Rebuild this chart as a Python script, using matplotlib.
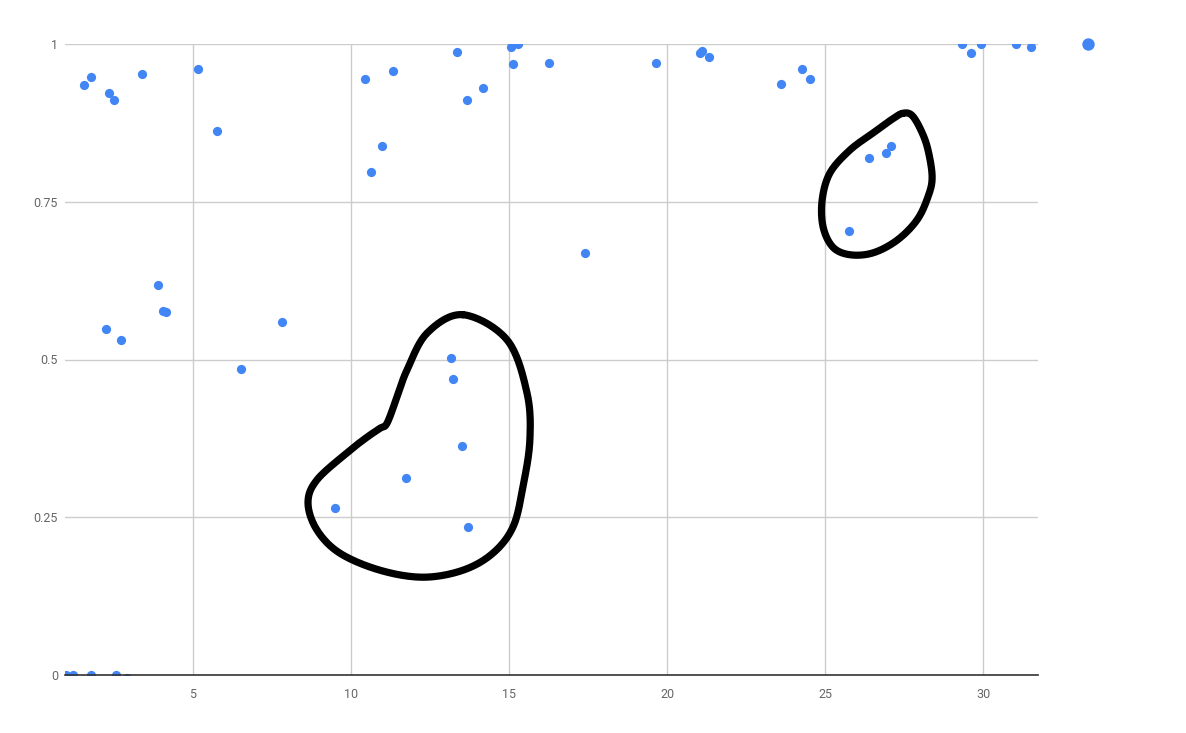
import numpy as np
import matplotlib
matplotlib.use("Agg")
import matplotlib.pyplot as plt

plt.rcParams['font.family'] = ['Roboto', 'DejaVu Sans']

# data points
x_vals = [1.55, 1.77, 2.34, 2.50, 3.39, 5.16, 5.76, 3.89, 4.05, 4.15, 2.25, 2.72,
          6.52, 7.82, 9.49, 10.44, 11.33, 10.98, 10.63, 13.35, 13.67, 14.18,
          15.06, 15.28, 15.13, 16.27, 17.41, 19.65, 21.04, 21.11, 21.33, 23.61,
          24.27, 24.53, 26.39, 26.93, 27.09, 25.76, 13.16, 13.23, 13.51, 11.74,
          13.70, 29.34, 29.62, 29.94, 31.04, 31.52,
          0.98, 1.20, 1.77, 2.56, 2.91]
y_vals = [0.935, 0.948, 0.922, 0.911, 0.952, 0.960, 0.862, 0.618, 0.577, 0.575,
          0.548, 0.531, 0.485, 0.559, 0.265, 0.945, 0.957, 0.838, 0.797, 0.987,
          0.911, 0.930, 0.995, 1.0, 0.968, 0.970, 0.669, 0.970, 0.986, 0.989,
          0.979, 0.937, 0.960, 0.945, 0.819, 0.827, 0.838, 0.704, 0.502, 0.469,
          0.363, 0.312, 0.235, 1.0, 0.986, 1.0, 1.0, 0.995,
          0.0, 0.0, 0.0, 0.0, -0.004]

# highlighted point outside the view window
big_x = [33.32]
big_y = [1.0]

x_ticks = [5, 10, 15, 20, 25, 30]
y_ticks = [0, 0.25, 0.5, 0.75, 1]
y_tick_labels = ["0", "0.25", "0.5", "0.75", "1"]

# hand-drawn loops (data coords)
loop1_x = [13.54, 14.94, 15.57, 15.66, 15.44, 15.13, 14.49, 13.54, 12.28, 10.92,
           9.65, 8.92, 8.64, 8.92, 9.87, 10.51, 10.92, 11.14, 11.46, 11.77, 12.41]
loop1_y = [0.571, 0.531, 0.447, 0.372, 0.298, 0.235, 0.193, 0.166, 0.155, 0.166,
           0.193, 0.230, 0.273, 0.309, 0.352, 0.377, 0.391, 0.399, 0.441, 0.483, 0.542]
loop2_x = [27.45, 27.75, 28.05, 28.26, 28.39, 28.26, 27.91, 27.28, 26.52, 25.79, 25.25,
           24.94, 24.91, 25.16, 25.79, 26.52, 27.10]
loop2_y = [0.890, 0.887, 0.862, 0.832, 0.789, 0.758, 0.721, 0.689, 0.669, 0.666, 0.678,
           0.710, 0.753, 0.796, 0.832, 0.859, 0.880]


def catmull_closed(xs, ys, n=20):
    P = np.column_stack([xs, ys])
    m = len(P)
    out = []
    t = np.linspace(0, 1, n, endpoint=False)[:, None]
    for i in range(m):
        p0, p1, p2, p3 = P[(i - 1) % m], P[i], P[(i + 1) % m], P[(i + 2) % m]
        c = 0.5 * ((2 * p1) + (-p0 + p2) * t + (2 * p0 - 5 * p1 + 4 * p2 - p3) * t ** 2
                   + (-p0 + 3 * p1 - 3 * p2 + p3) * t ** 3)
        out.append(c)
    out.append(P[:1])
    out = np.vstack(out)
    return out[:, 0], out[:, 1]


fig = plt.figure(figsize=(11.86, 7.33), dpi=100)
ax = fig.add_axes([65 / 1186, 58 / 733, (1038 - 65) / 1186, (675 - 44) / 733])

ax.set_xlim(0.95, 31.74)
ax.set_ylim(0, 1)

blue = '#4285F4'
ax.scatter(x_vals, y_vals, s=44, color=blue, linewidths=0, zorder=3)
ax.scatter(big_x, big_y, s=80, color=blue, linewidths=0, zorder=3, clip_on=False)

for lx, ly in [(loop1_x, loop1_y), (loop2_x, loop2_y)]:
    sx, sy = catmull_closed(lx, ly)
    ax.plot(sx, sy, color='black', lw=5.2, solid_capstyle='round',
            solid_joinstyle='round', zorder=4, clip_on=False)

ax.set_xticks(x_ticks)
ax.set_xticklabels([str(v) for v in x_ticks])
ax.set_yticks(y_ticks)
ax.set_yticklabels(y_tick_labels)
ax.grid(True, color='#cccccc', lw=1)
ax.set_axisbelow(True)
for s in ['top', 'right', 'left']:
    ax.spines[s].set_visible(False)
ax.spines['bottom'].set_color('#333333')
ax.spines['bottom'].set_linewidth(1.2)
ax.spines['bottom'].set_zorder(5)
ax.tick_params(axis='both', length=0, labelsize=9, labelcolor='#666666')
ax.tick_params(axis='x', pad=9)
ax.tick_params(axis='y', pad=5)

fig.savefig('out.png', dpi=100, facecolor='white')
